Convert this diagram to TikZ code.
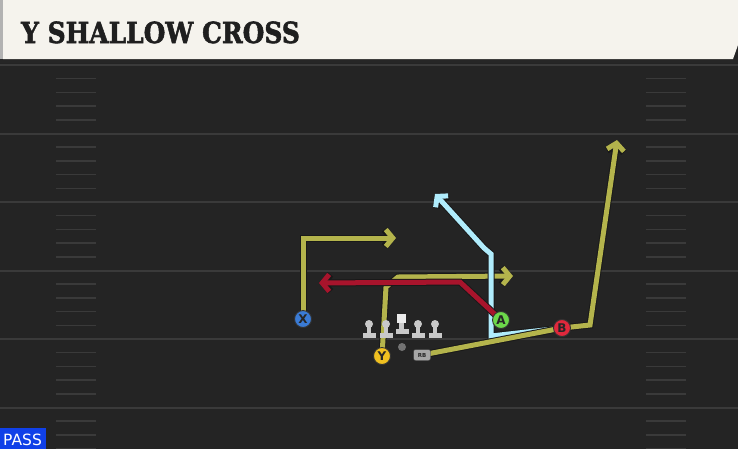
\documentclass[tikz,border=0pt]{standalone}
\usepackage{fontspec}
\setmainfont{DejaVu Sans}
\newfontfamily\titlefont{DejaVu Serif}[BoldFeatures={FakeBold=2}]
\usetikzlibrary{arrows.meta}
\definecolor{field}{HTML}{242424}
\definecolor{yardline}{HTML}{3A3A3A}
\definecolor{header}{HTML}{F5F3ED}
\definecolor{olive}{HTML}{B4B44C}
\definecolor{crimson}{HTML}{A8142C}
\definecolor{icy}{HTML}{B0ECFC}
\definecolor{lmgrey}{HTML}{C9C9C9}
\definecolor{xblue}{HTML}{3A7BD5}
\definecolor{yyellow}{HTML}{F0C020}
\definecolor{agreen}{HTML}{6CD84A}
\definecolor{bred}{HTML}{E0283C}
\definecolor{passblue}{HTML}{1040E8}
\tikzset{
  lineman/.pic={
    \fill[lmgrey] (0,-11) circle (4);
    \fill[lmgrey] (-2.2,-9) rectangle (2.2,-2);
    \fill[lmgrey] (-6.5,-2) rectangle (6.5,2.5);
  }
}
\begin{document}
\begin{tikzpicture}[x=1pt,y=-1pt,
    route/.style={line width=5pt, line join=miter,
      preaction={draw=black!90, line width=7pt}},
    tip/.style={-{Straight Barb[length=7pt,width=17pt]}},
    player/.style={circle, draw=black!80, line width=0.9pt, fill=#1,
      minimum size=17pt, inner sep=0pt,
      font=\fontsize{12}{12}\selectfont\bfseries, text=black!85}]
  \useasboundingbox (0,0) rectangle (738,448);
  % field
  \fill[field] (-5,-5) rectangle (743,453);
  \fill[black!85] (0,58) rectangle (738,63);
  \foreach \i in {0,...,5}
    \draw[yardline, line width=2pt] (0,65+68.5*\i) -- (738,65+68.5*\i);
  \foreach \i in {0,...,5}
    \foreach \k in {1,...,4} {
      \draw[yardline, line width=1.5pt] (56,65+68.5*\i+13.7*\k) -- (96,65+68.5*\i+13.7*\k);
      \draw[yardline, line width=1.5pt] (646,65+68.5*\i+13.7*\k) -- (686,65+68.5*\i+13.7*\k);
    }
  % header
  \fill[header] (3,-5) -- (743,-5) -- (743,45) -- (738,45) -- (733,59) -- (3,59) -- cycle;
  \fill[black!30] (-5,-5) rectangle (3,59);
  \node[anchor=base west, inner sep=0pt, text=black!88]
    (title) at (21,43) {\scalebox{0.86}[1]{\titlefont\fontsize{29}{29}\selectfont\bfseries Y SHALLOW CROSS}};
  % player spots
  \coordinate (pX) at (303,319);
  \coordinate (pY) at (382,356);
  \coordinate (pA) at (501,320);
  \coordinate (pB) at (562,328);
  \coordinate (pRB) at (422,355);
  % routes
  \draw[route, olive, tip] (pX) |- (396,238);
  \draw[route, olive, tip] (pY) -- (386,287) -- (398,277) -- (513,276);
  \draw[route, icy, tip] (pB) -- (491,336) -- (491,254) -- (484,248) -- (435,194);
  \draw[route, olive, tip] (pRB) -- (pB) -- (590,325) -- (617,140);
  \draw[route, crimson, tip] (pA) -- (460,282) -- (319,283);
  % line
  \foreach \x in {369,386,418,435}
    \pic at (\x,335) {lineman};
  \fill[white!92!black] (397,314) rectangle (406,323);
  \fill[lmgrey] (399.3,323) rectangle (403.7,329);
  \fill[lmgrey] (395.5,329) rectangle (408.5,333.5);
  \fill[black!55] (402,347) circle (4);
  % players
  \node[player=xblue] (X) at (pX) {X};
  \node[player=yyellow] (Y) at (pY) {Y};
  \node[player=agreen] (A) at (pA) {A};
  \node[player=bred] (B) at (pB) {B};
  \node[draw=black!80, fill=black!35, rounded corners=2pt, minimum width=17pt,
    minimum height=11pt, inner sep=0pt, font=\fontsize{5.5}{5.5}\selectfont\bfseries,
    text=black!85] (RB) at (pRB) {RB};
  % play type
  \fill[passblue] (-5,428) rectangle (46,453);
  \node[anchor=base west, inner sep=0pt, text=white,
    font=\fontsize{15.5}{15.5}\selectfont] (pass) at (3,445) {PASS};
\end{tikzpicture}
\end{document}
